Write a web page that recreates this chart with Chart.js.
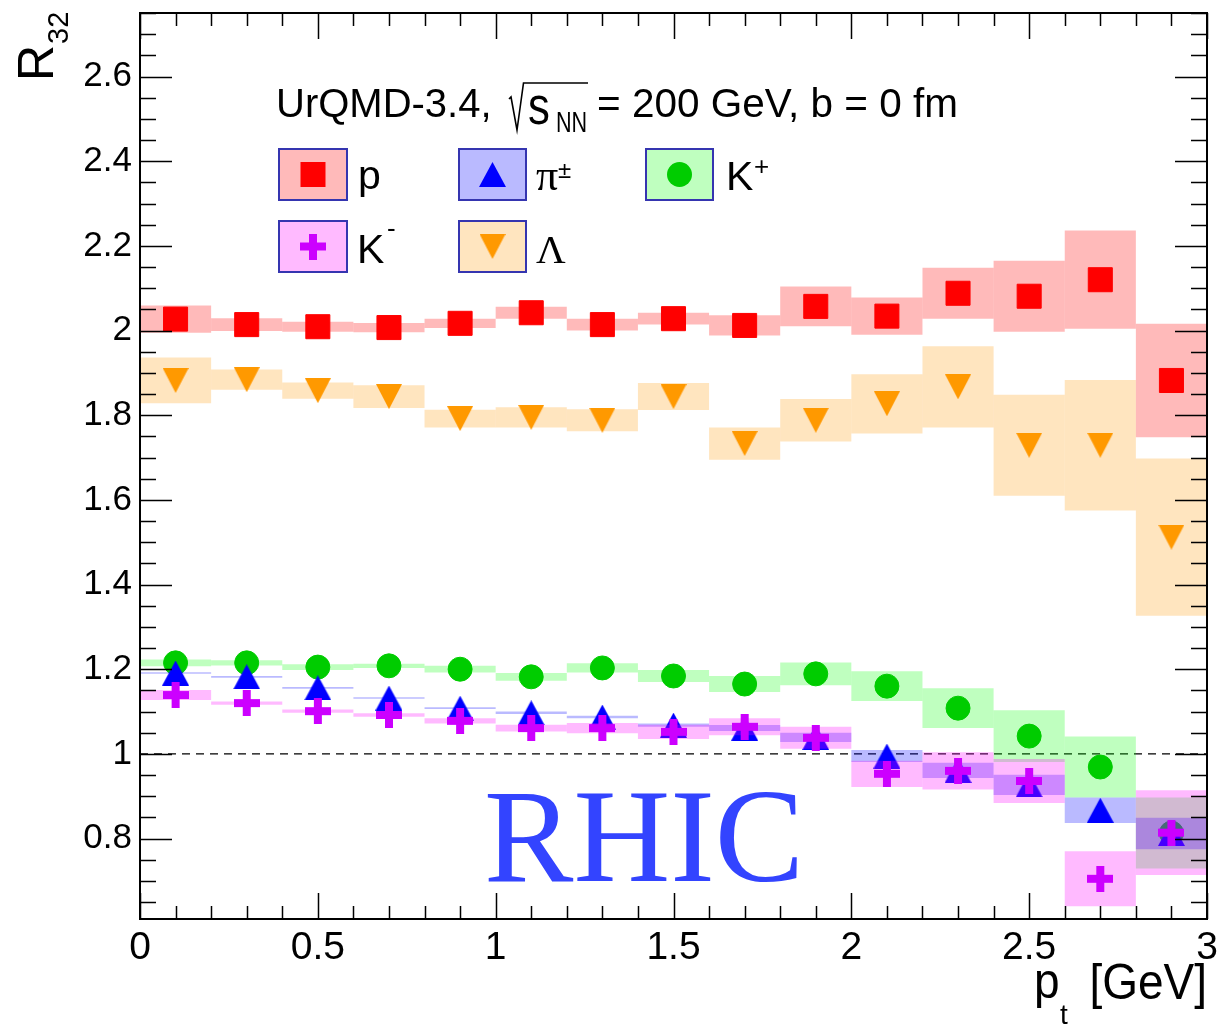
<!DOCTYPE html>
<html>
<head>
<meta charset="utf-8">
<script src="https://cdn.jsdelivr.net/npm/chart.js@4.4.1/dist/chart.umd.min.js"></script>
<style>
html,body{margin:0;padding:0;background:#fff;}
canvas{display:block;}
</style>
</head>
<body>
<canvas id="c" width="1217" height="1027"></canvas>
<script>
// ---------------- data ----------------
const ptBins = [0.1,0.3,0.5,0.7,0.9,1.1,1.3,1.5,1.7,1.9,2.1,2.3,2.5,2.7,2.9];

const protonR32 = [2.027,2.014,2.009,2.007,2.017,2.042,2.014,2.028,2.012,2.057,2.034,2.088,2.081,2.120,1.882];
const protonErr = [0.032,0.015,0.012,0.011,0.011,0.014,0.014,0.014,0.024,0.047,0.044,0.060,0.084,0.116,0.134];

const lambdaR32 = [1.882,1.884,1.858,1.844,1.792,1.795,1.788,1.844,1.733,1.788,1.827,1.867,1.729,1.729,1.512];
const lambdaErr = [0.054,0.024,0.019,0.027,0.021,0.024,0.026,0.032,0.038,0.050,0.070,0.096,0.119,0.154,0.186];

const kplusR32 = [1.215,1.215,1.205,1.208,1.200,1.182,1.203,1.184,1.165,1.189,1.160,1.108,1.042,0.969,0.813];
const kplusErr = [0.008,0.006,0.007,0.005,0.008,0.009,0.011,0.014,0.019,0.027,0.035,0.047,0.061,0.072,0.084];

const pionR32 = [1.191,1.182,1.156,1.132,1.108,1.097,1.087,1.068,1.061,1.039,0.995,0.961,0.927,0.867,0.812];
const pionErr = [0.002,0.002,0.002,0.002,0.002,0.003,0.003,0.004,0.007,0.011,0.014,0.018,0.024,0.030,0.037];

const kminusR32 = [1.139,1.120,1.101,1.092,1.078,1.061,1.061,1.052,1.064,1.038,0.953,0.960,0.936,0.705,0.814];
const kminusErr = [0.012,0.004,0.004,0.004,0.006,0.008,0.012,0.017,0.020,0.026,0.031,0.044,0.052,0.065,0.100];

const refLineY = 1;
const xRange = [0, 3];
const yRange = [0.61, 2.75];
const xTickValues = [0, 0.5, 1, 1.5, 2, 2.5, 3];
const yTickValues = [0.8, 1, 1.2, 1.4, 1.6, 1.8, 2, 2.2, 2.4, 2.6];

// ---------------- styles ----------------
const SANS = '"Liberation Sans", Arial, Helvetica, sans-serif';
const SERIF = '"Liberation Serif", "Times New Roman", serif';

function markerCanvas(w, h, draw) {
  const c = document.createElement('canvas');
  c.width = w; c.height = h;
  draw(c.getContext('2d'), w, h);
  return c;
}
const triUp = markerCanvas(27, 25, (g, w, h) => {
  g.fillStyle = '#0000ff'; g.beginPath();
  g.moveTo(w / 2, 0); g.lineTo(w, h); g.lineTo(0, h); g.closePath(); g.fill();
});
const triDown = markerCanvas(26, 25, (g, w, h) => {
  g.fillStyle = '#ff9900'; g.beginPath();
  g.moveTo(0, 0); g.lineTo(w, 0); g.lineTo(w / 2, h); g.closePath(); g.fill();
});
const plusMk = markerCanvas(26, 26, (g) => {
  g.fillStyle = '#cc00ff';
  g.fillRect(9, 0, 8, 26); g.fillRect(0, 9, 26, 8);
});

const series = [
  { key: 'p',  vals: protonR32, errs: protonErr, color: '#ff0000', band: 'rgba(255,0,0,0.27)',   style: 'rect',   radius: 17 },
  { key: 'L',  vals: lambdaR32, errs: lambdaErr, color: '#ff9900', band: 'rgba(255,153,0,0.25)', style: triDown,  radius: 12 },
  { key: 'K+', vals: kplusR32,  errs: kplusErr,  color: '#00cc00', band: 'rgba(0,255,0,0.25)',   style: 'circle', radius: 12 },
  { key: 'pi', vals: pionR32,   errs: pionErr,   color: '#0000ff', band: 'rgba(0,0,255,0.27)',   style: triUp,    radius: 12 },
  { key: 'K-', vals: kminusR32, errs: kminusErr, color: '#cc00ff', band: 'rgba(255,0,255,0.27)', style: plusMk,   radius: 12 }
];

const datasets = [{
  type: 'line',
  data: [{ x: xRange[0], y: refLineY }, { x: xRange[1], y: refLineY }],
  borderColor: '#000', borderWidth: 1.3, borderDash: [8, 6],
  pointRadius: 0, order: 100
}];
series.forEach((s, i) => {
  datasets.push({
    type: 'bar',
    data: ptBins.map((x, j) => ({ x: x, y: [s.vals[j] - s.errs[j], s.vals[j] + s.errs[j]] })),
    backgroundColor: s.band, borderWidth: 0, grouped: false,
    barPercentage: 1, categoryPercentage: 1, inflateAmount: 0,
    order: 99 - 2 * i
  });
  datasets.push({
    type: 'line', showLine: false,
    data: ptBins.map((x, j) => ({ x: x, y: s.vals[j] })),
    pointStyle: s.style, pointRadius: s.radius,
    pointBackgroundColor: s.color, pointBorderColor: s.color, pointBorderWidth: 1,
    order: 98 - 2 * i
  });
});

// ---------------- decorations ----------------
function txt(ctx, s, x, y, font, color, align, sx, sy) {
  ctx.save();
  ctx.translate(x, y);
  ctx.scale(sx || 1, sy || 1);
  ctx.font = font; ctx.fillStyle = color || '#000';
  ctx.textAlign = align || 'left'; ctx.textBaseline = 'alphabetic';
  ctx.fillText(s, 0, 0);
  ctx.restore();
}

const legendBoxes = [
  { s: 0, x: 279, y: 149, w: 68, h: 51 },
  { s: 3, x: 459, y: 149, w: 67, h: 51 },
  { s: 2, x: 646, y: 149, w: 67, h: 51 },
  { s: 4, x: 279, y: 221, w: 68, h: 51 },
  { s: 1, x: 459, y: 221, w: 67, h: 51 }
];

const decorPlugin = {
  id: 'decor',
  afterDatasetsDraw(chart) {
    const { ctx, chartArea: a, scales: { x, y } } = chart;
    ctx.save();
    ctx.strokeStyle = '#000';
    ctx.lineWidth = 1.5;
    ctx.beginPath();
    const y0 = Math.ceil(y.min / 0.05 - 1e-6), y1 = Math.floor(y.max / 0.05 + 1e-6);
    for (let k = y0; k <= y1; k++) {
      const v = k * 0.05;
      const major = Math.abs(v / 0.2 - Math.round(v / 0.2)) < 1e-6;
      const py = Math.round(y.getPixelForValue(v)) + 0.5;
      const L = major ? 32 : 16;
      ctx.moveTo(a.left, py); ctx.lineTo(a.left + L, py);
      ctx.moveTo(a.right, py); ctx.lineTo(a.right - L, py);
    }
    const x0 = Math.ceil(x.min / 0.1 - 1e-6), x1 = Math.floor(x.max / 0.1 + 1e-6);
    for (let k = x0; k <= x1; k++) {
      const v = k * 0.1;
      const major = Math.abs(v / 0.5 - Math.round(v / 0.5)) < 1e-6;
      const px = Math.round(x.getPixelForValue(v)) + 0.5;
      const L = major ? 26 : 13;
      ctx.moveTo(px, a.bottom); ctx.lineTo(px, a.bottom - L);
      ctx.moveTo(px, a.top); ctx.lineTo(px, a.top + L);
    }
    ctx.stroke();
    ctx.lineWidth = 2;
    ctx.strokeRect(a.left, a.top, a.right - a.left, a.bottom - a.top);
    ctx.restore();
  },
  afterDraw(chart) {
    const ctx = chart.ctx;
    // header
    txt(ctx, 'UrQMD-3.4,', 276, 117, '40px ' + SANS);
    ctx.save();
    ctx.strokeStyle = '#000'; ctx.lineWidth = 1.6; ctx.lineJoin = 'miter';
    ctx.beginPath();
    ctx.moveTo(509, 99); ctx.lineTo(511, 97); ctx.lineTo(517, 130); ctx.lineTo(523.5, 83); ctx.lineTo(588, 83);
    ctx.stroke();
    ctx.restore();
    txt(ctx, 's', 528, 124, '46px ' + SANS, '#000', 'left', 0.95, 1.12);
    txt(ctx, 'NN', 556, 132, '30px ' + SANS, '#000', 'left', 0.72, 1);
    txt(ctx, '= 200 GeV, b = 0 fm', 597, 117, '40.5px ' + SANS);

    // legend
    legendBoxes.forEach(b => {
      const s = series[b.s];
      ctx.save();
      ctx.fillStyle = s.band;
      ctx.fillRect(b.x, b.y, b.w, b.h);
      ctx.strokeStyle = '#3535b0'; ctx.lineWidth = 2;
      ctx.strokeRect(b.x, b.y, b.w, b.h);
      const cx = b.x + b.w / 2, cy = b.y + b.h / 2;
      ctx.fillStyle = s.color;
      if (s.style === 'rect') {
        ctx.fillRect(cx - 12.5, cy - 12.5, 25, 25);
      } else if (s.style === 'circle') {
        ctx.beginPath(); ctx.arc(cx, cy, 12.5, 0, Math.PI * 2); ctx.fill();
      } else {
        ctx.drawImage(s.style, cx - s.style.width / 2, cy - s.style.height / 2);
      }
      ctx.restore();
    });
    txt(ctx, 'p', 358, 189, '41px ' + SANS);
    txt(ctx, 'π', 536, 190, '44px ' + SERIF);
    txt(ctx, '±', 558, 178, '24px ' + SANS);
    txt(ctx, 'K', 726, 190, '41px ' + SANS);
    txt(ctx, '+', 754, 175, '26px ' + SANS);
    txt(ctx, 'K', 357, 263, '41px ' + SANS);
    txt(ctx, '-', 387, 237, '26px ' + SANS);
    txt(ctx, 'Λ', 536, 263, '41px ' + SERIF);

    // RHIC
    txt(ctx, 'RHIC', 484, 881, '134px ' + SERIF, '#3344ff');

    // axis titles
    txt(ctx, 'p', 1034, 998, '46px ' + SANS, '#000', 'left', 1, 1.1);
    txt(ctx, 't', 1060, 1024, '28px ' + SANS);
    txt(ctx, '[GeV]', 1207, 999, '46px ' + SANS, '#000', 'right', 1, 1.08);

    ctx.save();
    ctx.translate(53, 81);
    ctx.rotate(-Math.PI / 2);
    ctx.font = '50px ' + SANS; ctx.fillStyle = '#000'; ctx.textBaseline = 'alphabetic';
    ctx.fillText('R', 0, 0);
    const rw = ctx.measureText('R').width;
    ctx.font = '29px ' + SANS;
    ctx.fillText('32', rw + 1, 15);
    ctx.restore();
  }
};

const fmt = v => String(+Number(v).toFixed(2));

new Chart(document.getElementById('c'), {
  type: 'line',
  data: { datasets: datasets },
  plugins: [decorPlugin],
  options: {
    responsive: false,
    animation: false,
    events: [],
    layout: { autoPadding: false, padding: { left: 0, top: 13, right: 10, bottom: 0 } },
    plugins: { legend: { display: false }, tooltip: { enabled: false }, title: { display: false } },
    scales: {
      x: {
        type: 'linear', min: xRange[0], max: xRange[1], offset: false,
        grid: { display: false, drawTicks: false, offset: false },
        border: { display: false },
        afterBuildTicks: s => { s.ticks = xTickValues.map(v => ({ value: v })); },
        afterFit: s => { s.height = 108; s.paddingLeft = 0; s.paddingRight = 0; },
        ticks: {
          autoSkip: false, maxRotation: 0, padding: 6, color: '#000',
          font: { family: SANS, size: 39 },
          callback: v => fmt(v)
        }
      },
      y: {
        type: 'linear', min: yRange[0], max: yRange[1],
        grid: { display: false, drawTicks: false },
        border: { display: false },
        afterBuildTicks: s => { s.ticks = yTickValues.map(v => ({ value: v })); },
        afterFit: s => { s.width = 140; s.paddingTop = 0; s.paddingBottom = 0; },
        ticks: {
          autoSkip: false, padding: 8, color: '#000',
          font: { family: SANS, size: 35 },
          callback: v => fmt(v)
        }
      }
    }
  }
});
</script>
</body>
</html>
